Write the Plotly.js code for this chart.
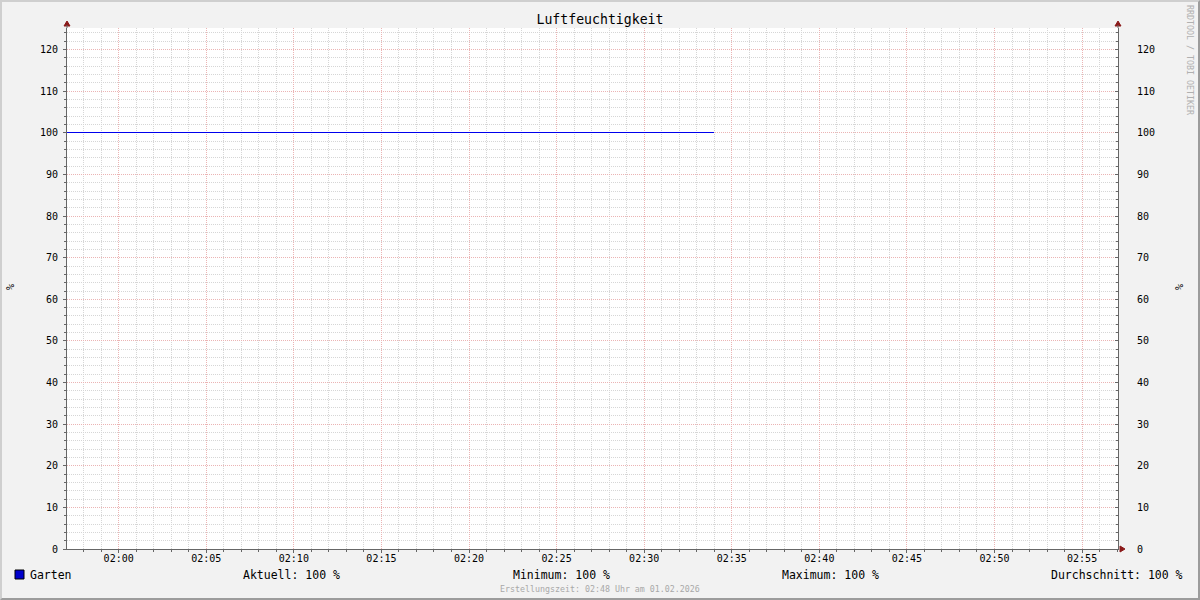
<!DOCTYPE html>
<html>
<head>
<meta charset="utf-8">
<script src="https://cdn.plot.ly/plotly-3.0.1.min.js"></script>
<style>
html,body{margin:0;padding:0;background:#f2f2f2;}
#wrap{width:1200px;height:600px;box-sizing:border-box;border-style:solid;border-width:2px;border-color:#cfcfcf #9c9c9c #9c9c9c #cfcfcf;background:#f2f2f2;}
#plot{width:1196px;height:596px;}
#plot .scatterlayer path.js-line{shape-rendering:crispEdges;}
</style>
</head>
<body>
<div id="wrap"><div id="plot"></div></div>
<script>
// ---- data ----
const seriesName = "Garten";
const times = [
  "2026-02-01 01:57:00","2026-02-01 02:00:00","2026-02-01 02:05:00","2026-02-01 02:10:00",
  "2026-02-01 02:15:00","2026-02-01 02:20:00","2026-02-01 02:25:00","2026-02-01 02:30:00",
  "2026-02-01 02:34:00"
];
const humidity = [100, 100, 100, 100, 100, 100, 100, 100, 100];
const chartTitle = "Luftfeuchtigkeit";
const unitLabel = "%";
const xRange = ["2026-02-01 01:57:03", "2026-02-01 02:57:03"];
const yRange = [0, 125.2];
const creationText = "Erstellungszeit: 02:48 Uhr am 01.02.2026";
const watermark = "RRDTOOL / TOBI OETIKER";

// ---- stats ----
const cur = humidity[humidity.length - 1];
const mn = Math.min(...humidity);
const mx = Math.max(...humidity);
const avg = humidity.reduce((a, b) => a + b, 0) / humidity.length;
const fmt = v => Math.round(v) + " %";

const FONT = "DejaVu Sans Mono, monospace";
const lineColor = "#0000ee";
const axisColor = "#666666";
const majorGrid = "#ebb4b4";
const minorGrid = "#d6d6d6";
const arrowColor = "#8b1a1a";
const DOTS = "1px,1px";

const traces = [
  {x: times, y: humidity, type: "scatter", mode: "lines", name: seriesName,
   line: {color: lineColor, width: 1}, hoverinfo: "skip"},
  {x: times, y: humidity, type: "scatter", mode: "lines", yaxis: "y2",
   line: {color: lineColor, width: 0}, opacity: 0, showlegend: false, hoverinfo: "skip"}
];

// annotation helper: position in page pixels relative to plot bottom-left (page 67,549)
function ann(text, px, py, opts) {
  return Object.assign({
    text: text, xref: "paper", yref: "paper", x: 0, y: 0,
    xshift: px - 67, yshift: -(py - 549), showarrow: false,
    xanchor: "left", yanchor: "middle",
    font: {family: FONT, size: 11.5, color: "#000000"}
  }, opts || {});
}

const annotations = [
  ann(seriesName, 28, 575),
  ann("Aktuell: " + fmt(cur), 241, 575),
  ann("Minimum: " + fmt(mn), 511, 575),
  ann("Maximum: " + fmt(mx), 780, 575),
  ann("Durchschnitt: " + fmt(avg), 1049, 575),
  ann(creationText, 600, 589, {xanchor: "center", font: {family: FONT, size: 8.3, color: "#a8a8a8"}}),
  ann(watermark, 1190, 60, {xanchor: "center", textangle: 90, font: {family: FONT, size: 8.3, color: "#b0b0b0"}}),
  ann(unitLabel, 10, 287, {xanchor: "center", textangle: -90, font: {family: FONT, size: 10, color: "#000000"}}),
  ann(unitLabel, 1179, 287, {xanchor: "center", textangle: -90, font: {family: FONT, size: 10, color: "#000000"}})
];

const shapes = [
  // legend colour box
  {type: "rect", xref: "paper", yref: "paper", xsizemode: "pixel", ysizemode: "pixel",
   xanchor: 0, yanchor: 0, x0: 15 - 67, x1: 24 - 67, y0: -(579 - 549), y1: -(570 - 549),
   fillcolor: "#0000cc", line: {color: "#000000", width: 1}},
  // arrows
  {type: "path", xref: "paper", yref: "paper", xsizemode: "pixel", ysizemode: "pixel",
   xanchor: 0, yanchor: 1, path: "M -3 2 L 3 2 L 0 7 Z", fillcolor: arrowColor, line: {color: arrowColor, width: 1}},
  {type: "path", xref: "paper", yref: "paper", xsizemode: "pixel", ysizemode: "pixel",
   xanchor: 1, yanchor: 1, path: "M -3 2 L 3 2 L 0 7 Z", fillcolor: arrowColor, line: {color: arrowColor, width: 1}},
  {type: "path", xref: "paper", yref: "paper", xsizemode: "pixel", ysizemode: "pixel",
   xanchor: 1, yanchor: 0, path: "M 2 -3 L 2 3 L 7 0 Z", fillcolor: arrowColor, line: {color: arrowColor, width: 1}},
  // axis extensions up to arrows
  {type: "line", xref: "paper", yref: "paper", xsizemode: "pixel", ysizemode: "pixel",
   xanchor: 0, yanchor: 1, x0: 0, x1: 0, y0: 0, y1: 3, line: {color: axisColor, width: 1}},
  {type: "line", xref: "paper", yref: "paper", xsizemode: "pixel", ysizemode: "pixel",
   xanchor: 1, yanchor: 1, x0: 0, x1: 0, y0: 0, y1: 3, line: {color: axisColor, width: 1}}
];

const layout = {
  width: 1196, height: 596,
  margin: {l: 65, r: 80, t: 26, b: 49, pad: 0},
  paper_bgcolor: "#f2f2f2", plot_bgcolor: "#ffffff",
  showlegend: false,
  font: {family: FONT, size: 10, color: "#000000"},
  title: {text: chartTitle, xref: "container", x: 0.5, xanchor: "center",
          yref: "container", y: 1 - 17 / 596, yanchor: "middle",
          font: {family: FONT, size: 13.2, color: "#000000"}},
  xaxis: {type: "date", range: xRange, tick0: "2026-02-01 02:00:00", dtick: 300000,
          tickformat: "%H:%M", showgrid: true, gridcolor: majorGrid, griddash: DOTS, gridwidth: 1,
          showline: true, linecolor: axisColor, linewidth: 1,
          ticks: "outside", ticklen: 3, tickcolor: axisColor, ticklabelstandoff: -3,
          tickfont: {family: FONT, size: 10, color: "#000000"}, zeroline: false,
          minor: {dtick: 60000, showgrid: true, gridcolor: minorGrid, griddash: DOTS, gridwidth: 1,
                  ticks: "outside", ticklen: 2, tickcolor: axisColor},
          fixedrange: true},
  yaxis: {range: yRange, tick0: 0, dtick: 10, showgrid: true, gridcolor: majorGrid, griddash: DOTS, gridwidth: 1,
          showline: true, linecolor: axisColor, linewidth: 1, zeroline: false,
          ticks: "outside", ticklen: 3, tickcolor: axisColor, ticklabelstandoff: 3,
          tickfont: {family: FONT, size: 10, color: "#000000"},
          minor: {dtick: 2, showgrid: true, gridcolor: minorGrid, griddash: DOTS, gridwidth: 1,
                  ticks: "outside", ticklen: 2, tickcolor: axisColor},
          fixedrange: true},
  yaxis2: {range: yRange, tick0: 0, dtick: 10, overlaying: "y", side: "right", showgrid: false,
           showline: true, linecolor: axisColor, linewidth: 1, zeroline: false,
           ticks: "inside", ticklen: 3, tickcolor: axisColor, ticklabelstandoff: 16,
           tickfont: {family: FONT, size: 10, color: "#000000"},
           minor: {dtick: 2, ticks: "inside", ticklen: 2, tickcolor: axisColor, showgrid: false},
           fixedrange: true},
  annotations: annotations,
  shapes: shapes
};

Plotly.newPlot("plot", traces, layout, {staticPlot: true, displayModeBar: false});
</script>
</body>
</html>
